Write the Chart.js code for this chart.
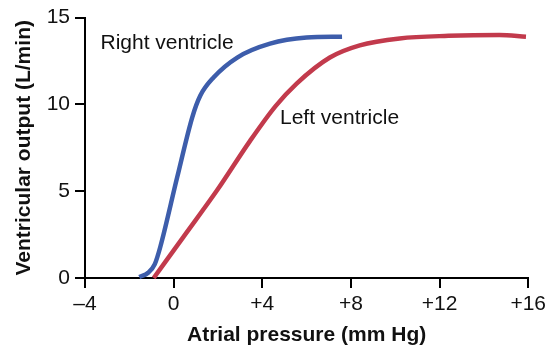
<!DOCTYPE html>
<html lang="en">
<head>
    <meta charset="UTF-8">
    <title>Ventricular output</title>
    <style>
        html, body { margin: 0; padding: 0; background: #fff; }
        #wrap { width: 550px; height: 348px; }
    </style>
</head>
<body>
    <div id="wrap"><canvas id="chart" width="550" height="348"></canvas></div>

    <script src="https://cdn.jsdelivr.net/npm/chart.js"></script>
    <script>
        // values
        const rightX = [-1.55, -1.15, -0.85, -0.6, 0.16, 0.85, 1.2, 1.8, 2.87, 4.35, 6.0, 7.6];
        const rightY = [0.05, 0.3, 0.8, 1.8, 5.8, 9.3, 10.5, 11.55, 12.7, 13.5, 13.85, 13.9];
        const leftX = [-0.9, 0.46, 1.96, 3.45, 4.6, 5.55, 7.05, 8.4, 10.2, 12.4, 14.7, 15.9];
        const leftY = [0, 2.4, 5.05, 7.9, 9.9, 11.2, 12.7, 13.4, 13.8, 13.95, 14.0, 13.9];
        const xTicks = [-4, 0, 4, 8, 12, 16];
        const xTickLabels = ['\u20134', '0', '+4', '+8', '+12', '+16'];
        const yTicks = [0, 5, 10, 15];
        const seriesNames = ['Right ventricle', 'Left ventricle'];
        // where the text labels sit, in data units
        const labelPos = [[-3.3, 13.55], [4.8, 9.2]];

        const BLUE = '#3d5dab';
        const RED = '#c23a4c';
        const FONT = '"Liberation Sans", Arial, sans-serif';

        const pts = (xs, ys) => xs.map((x, i) => ({ x: x, y: ys[i] }));

        const seriesText = {
            id: 'seriesText',
            afterDatasetsDraw(chart) {
                const ctx = chart.ctx;
                const xs = chart.scales.x, ys = chart.scales.y;
                ctx.save();
                ctx.fillStyle = '#111';
                ctx.font = '21px ' + FONT;
                ctx.textBaseline = 'middle';
                ctx.textAlign = 'left';
                seriesNames.forEach((name, i) => {
                    ctx.fillText(name, xs.getPixelForValue(labelPos[i][0]), ys.getPixelForValue(labelPos[i][1]));
                });
                ctx.restore();
            }
        };

        new Chart(document.getElementById('chart'), {
            type: 'scatter',
            data: {
                datasets: [
                    {
                        label: seriesNames[0],
                        data: pts(rightX, rightY),
                        borderColor: BLUE,
                        borderWidth: 4.5,
                        showLine: true,
                        pointRadius: 0,
                        cubicInterpolationMode: 'monotone',
                        borderCapStyle: 'butt'
                    },
                    {
                        label: seriesNames[1],
                        data: pts(leftX, leftY),
                        borderColor: RED,
                        borderWidth: 4.5,
                        showLine: true,
                        pointRadius: 0,
                        cubicInterpolationMode: 'monotone',
                        borderCapStyle: 'butt'
                    }
                ]
            },
            options: {
                responsive: false,
                animation: false,
                clip: false,
                layout: { padding: { left: 0, right: 19, top: 17, bottom: 0 } },
                plugins: {
                    legend: { display: false },
                    tooltip: { enabled: false }
                },
                scales: {
                    x: {
                        type: 'linear',
                        min: -4,
                        max: 16,
                        afterBuildTicks: (s) => { s.ticks = xTicks.map(v => ({ value: v })); },
                        afterFit: (s) => { s.height = 70; },
                        ticks: {
                            color: '#111',
                            font: { family: FONT, size: 21 },
                            padding: 4,
                            maxRotation: 0,
                            callback: (v) => xTickLabels[xTicks.indexOf(v)]
                        },
                        grid: { drawOnChartArea: false, color: '#000', lineWidth: 2, tickLength: 10 },
                        border: { color: '#000', width: 2 },
                        title: {
                            display: true,
                            text: 'Atrial pressure (mm Hg)',
                            color: '#111',
                            font: { family: FONT, size: 21, weight: 'bold' },
                            padding: { top: 2, bottom: 0 }
                        }
                    },
                    y: {
                        min: 0,
                        max: 15,
                        afterBuildTicks: (s) => { s.ticks = yTicks.map(v => ({ value: v })); },
                        afterFit: (s) => { s.width = 85; },
                        ticks: {
                            color: '#111',
                            font: { family: FONT, size: 21 },
                            padding: 5
                        },
                        grid: { drawOnChartArea: false, color: '#000', lineWidth: 2, tickLength: 10 },
                        border: { color: '#000', width: 2 },
                        title: {
                            display: true,
                            text: 'Ventricular output (L/min)',
                            color: '#111',
                            font: { family: FONT, size: 21, weight: 'bold' },
                            padding: { top: 12, bottom: 0 }
                        }
                    }
                }
            },
            plugins: [seriesText]
        });
    </script>
</body>
</html>
